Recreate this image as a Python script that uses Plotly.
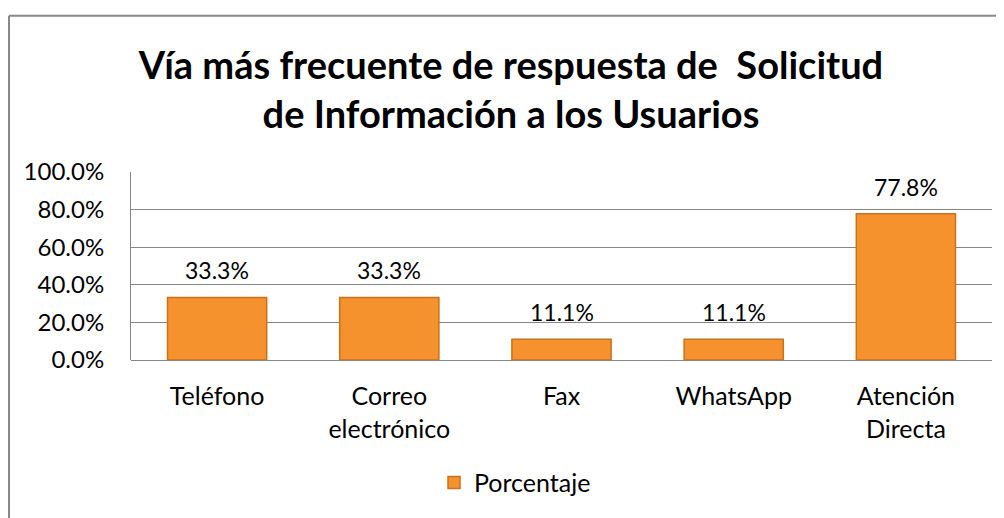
import plotly.graph_objects as go

categories = ["Teléfono", "Correo<br>electrónico", "Fax", "WhatsApp", "Atención<br>Directa"]
values = [33.3, 33.3, 11.1, 11.1, 77.8]
series_name = "Porcentaje"
y_tick_values = [0, 20, 40, 60, 80, 100]
y_tick_labels = ["0.0%", "20.0%", "40.0%", "60.0%", "80.0%", "100.0%"]
title_text = "Vía más frecuente de respuesta de  Solicitud<br>de Información a los Usuarios"

# page body has an 8px margin, so the figure is drawn 8px in from the window edge
OFF = 8
W, H = 996, 510
L, R, T, B = 131 - OFF, W - (992 - OFF), 172 - OFF, H - (362 - OFF)
pw, ph = W - L - R, H - T - B

FONT = "Lato"
GRID = "#878787"

fig = go.Figure()
fig.add_trace(go.Bar(
    x=categories, y=values, name=series_name,
    marker=dict(color="#F5922E", line=dict(color="#C9711C", width=1.5)),
    showlegend=True,
))

for c, v in zip(categories, values):
    fig.add_annotation(x=c, y=v, xref="x", yref="y", text=f"{v:.1f}%",
                       showarrow=False, yanchor="bottom", yshift=11,
                       font=dict(family=FONT, size=23, color="#000000"))

def px_x(p):
    return (p - OFF - L) / pw

def px_y(p):
    return 1 - (p - OFF - T) / ph

# outer chart border (top and left visible)
fig.add_shape(type="line", xref="paper", yref="paper",
              x0=px_x(9), x1=px_x(1004), y0=px_y(14), y1=px_y(14),
              line=dict(color="#888888", width=2))
fig.add_shape(type="line", xref="paper", yref="paper",
              x0=px_x(9), x1=px_x(9), y0=px_y(14), y1=px_y(540),
              line=dict(color="#888888", width=2))

fig.update_layout(
    width=W, height=H,
    margin=dict(l=L, r=R, t=T, b=B),
    paper_bgcolor="white", plot_bgcolor="white",
    font=dict(family=FONT, size=25, color="#000000"),
    title=dict(text=title_text, x=(511 - OFF) / W, xanchor="center", xref="container",
               y=1 - (79 - OFF) / H, yanchor="middle", yref="container",
               font=dict(family=FONT, size=38, color="#000000", weight="bold")),
    bargap=0.424,
    showlegend=True,
    legend=dict(orientation="h", x=px_x(515), xanchor="center",
                y=px_y(486), yanchor="middle",
                font=dict(family=FONT, size=25, color="#000000")),
    xaxis=dict(showline=False, showgrid=False, ticks="",
               ticklabelstandoff=19, tickfont=dict(size=25)),
    yaxis=dict(range=[0, 100], tickvals=y_tick_values, ticktext=y_tick_labels,
               showgrid=True, gridcolor=GRID, gridwidth=1,
               zeroline=True, zerolinecolor=GRID, zerolinewidth=1,
               showline=True, linecolor=GRID, linewidth=1,
               ticks="", ticklabelstandoff=21, tickfont=dict(size=24)),
)

fig.write_html("out.html")
